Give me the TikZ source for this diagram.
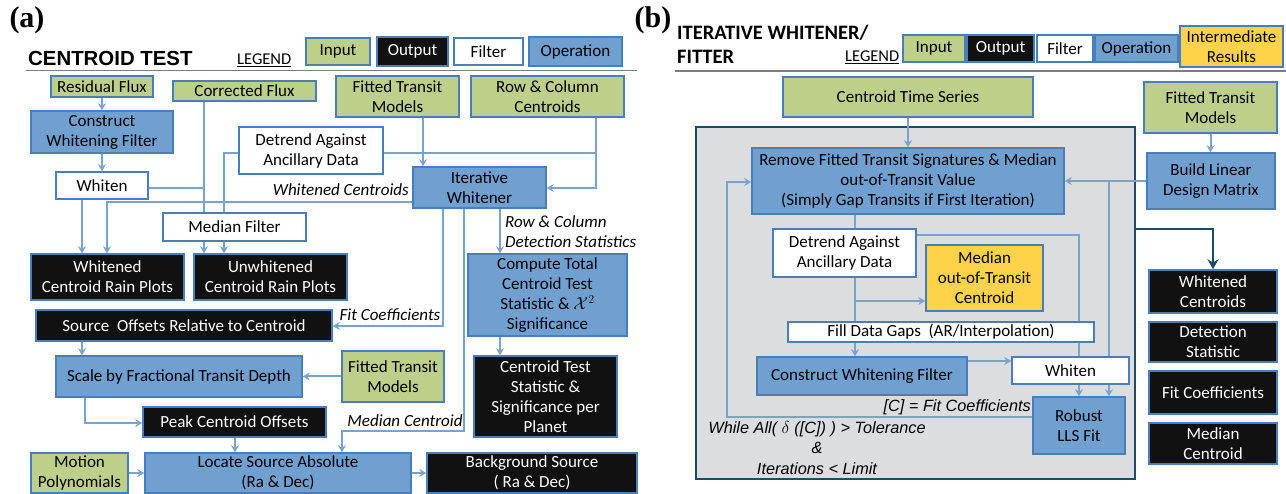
\documentclass[tikz,border=0pt]{standalone}
\usepackage{fontspec}
\setmainfont{Carlito}
\newfontfamily\arialf{Liberation Sans}
\newfontfamily\timesf{Liberation Serif}
\usetikzlibrary{arrows.meta}
\pgfdeclarelayer{back}
\pgfdeclarelayer{conn}
\pgfsetlayers{back,conn,main}
\definecolor{bordc}{RGB}{74,126,187}
\definecolor{opfill}{RGB}{111,160,207}
\definecolor{infill}{RGB}{190,207,140}
\definecolor{outfill}{RGB}{17,17,17}
\definecolor{intfill}{RGB}{255,210,75}
\definecolor{connc}{RGB}{122,162,202}
\definecolor{grayfill}{RGB}{220,221,223}
\definecolor{navy}{RGB}{30,75,105}
\definecolor{rulec}{RGB}{125,125,125}
\begin{document}
\begin{tikzpicture}[x=1pt,y=-1pt,
  box/.style={draw=bordc, line width=1.5pt, align=center, inner sep=1pt, font=\fontsize{17}{20}\selectfont},
  wh/.style 2 args={minimum width=#1, minimum height=#2},
  inbox/.style={box, fill=infill},
  outbox/.style={box, fill=outfill, text=white},
  filbox/.style={box, fill=white},
  opbox/.style={box, fill=opfill},
  intbox/.style={box, fill=intfill},
  conn/.style={draw=connc, line width=2pt},
  arr/.style={conn, -{Stealth[length=7pt,width=8pt]}},
  thickarr/.style={draw=navy, line width=2.8pt, -{Stealth[length=10pt,width=11pt]}},
  ilab/.style={inner sep=0pt, font=\fontsize{17}{20}\selectfont\itshape},
  alab/.style={inner sep=0pt, align=center, font=\arialf\itshape\fontsize{16.3}{20.5}\selectfont},
  ttl/.style={inner sep=0pt, font=\timesf\bfseries\fontsize{30}{30}\selectfont},
  leg/.style={inner sep=0pt, anchor=base west, font=\fontsize{16.5}{20}\selectfont}
]
\useasboundingbox (0,0) rectangle (1286,494);

% ================= Panel (a) =================
\node[ttl] (ta) at (27,20) {(a)};
\node[inner sep=0pt, anchor=base west, font=\arialf\bfseries\fontsize{20.4}{24}\selectfont] (tct) at (28,66) {CENTROID TEST};
\node[leg] (lga) at (237,65) {\underline{LEGEND}};
\coordinate (ra1) at (26,70.5);
\coordinate (ra2) at (637,70.5);
\draw[rulec, line width=1.5pt] (ra1) -- (ra2);

\node[inbox, wh={64}{27}] (liA) at (338,51.5) {Input};
\node[outbox, wh={71}{29}] (loA) at (412.5,51.5) {Output};
\node[filbox, wh={69}{27}] (lfA) at (488.5,51.5) {Filter};
\node[opbox, wh={93}{29}] (lpA) at (575.5,51.5) {Operation};

\node[inbox, wh={102}{21}] (resid) at (102,86.5) {Residual Flux};
\node[inbox, wh={143}{20}] (corr) at (244.5,91) {Corrected Flux};
\node[opbox, wh={142}{42}] (cwf) at (102,132) {Construct\\Whitening Filter};
\node[filbox, wh={92}{27}] (whA) at (102,185.5) {Whiten};
\node[filbox, wh={144}{47}] (detA) at (311,150.5) {Detrend Against\\Ancillary Data};
\node[inbox, wh={123}{41}] (ftmA) at (397.5,96.5) {Fitted Transit\\Models};
\node[inbox, wh={153}{41}] (rcc) at (547.5,96.5) {Row \& Column\\Centroids};
\node[opbox, wh={133}{41}] (itw) at (479.5,187.5) {Iterative\\Whitener};
\node[filbox, wh={143}{28}] (medf) at (234.5,227) {Median Filter};
\node[outbox, wh={153}{46}] (wrp) at (107.5,277) {Whitened\\Centroid Rain Plots};
\node[outbox, wh={153}{46}] (uwrp) at (270.5,277) {Unwhitened\\Centroid Rain Plots};
\node[opbox, wh={159}{82}] (ctot) at (547.5,295) {Compute Total\\Centroid Test\\Statistic \& $\mathcal{X}^{2}$\\Significance};
\node[outbox, wh={296}{31}] (src) at (184,325.5) {Source~ Offsets Relative to Centroid};
\node[outbox, wh={143}{81}] (ctsig) at (545.5,396.5) {Centroid Test\\Statistic \&\\Significance per\\Planet};
\node[opbox, wh={246}{41}] (scale) at (179,376.5) {Scale by Fractional Transit Depth};
\node[inbox, wh={102}{51}] (ftm2) at (393,376.5) {Fitted Transit\\Models};
\node[outbox, wh={183}{30}] (peak) at (234.5,422) {Peak Centroid Offsets};
\node[inbox, wh={97}{40}] (motion) at (79.5,473) {Motion\\Polynomials};
\node[opbox, wh={266}{40}] (locate) at (278,473) {Locate Source Absolute\\(Ra \& Dec)};
\node[outbox, wh={210}{40}] (bg) at (532,473) {Background Source\\( Ra \& Dec)};

\node[ilab, anchor=east] (lwc) at (409,190) {Whitened Centroids};
\node[ilab, anchor=west, align=left] (lrc) at (505,232) {Row \& Column\\Detection Statistics};
\node[ilab] (lfc) at (390,315) {Fit Coefficients};
\node[ilab] (lmc) at (405,421) {Median Centroid};

% connector coordinates (a)
\coordinate (xa1) at (204,188);
\coordinate (xa2) at (82,0);
\coordinate (wc) at (107,202);
\coordinate (dt) at (224,153);
\coordinate (rc) at (596,153);
\coordinate (rc2) at (596,188);
\coordinate (f1) at (423,0);
\coordinate (fc) at (443,326);
\coordinate (mc1) at (464,431);
\coordinate (mc2) at (342,431);
\coordinate (rd) at (500,0);
\coordinate (sp) at (85,423);
\coordinate (pk) at (235,0);

\begin{pgfonlayer}{conn}
\draw[arr] (resid.south) -- (cwf.north);
\draw[arr] (cwf.south) -- (whA.north);
\draw[arr] (corr.south -| xa1) -- (uwrp.north -| xa1);
\draw[conn] (whA.east |- xa1) -- (xa1);
\draw[arr] (whA.south -| xa2) -- (wrp.north -| xa2);
\draw[arr] (itw.west |- wc) -- (wc) -- (wrp.north -| wc);
\draw[arr] (detA.west |- dt) -- (dt) -- (uwrp.north -| dt);
\draw[conn] (detA.east |- rc) -- (rc);
\draw[arr] (rcc.south -| rc2) -- (rc2) -- (itw.east |- rc2);
\draw[arr] (ftmA.south -| f1) -- (itw.north -| f1);
\draw[arr] (itw.south -| fc) -- (fc) -- (src.east |- fc);
\draw[arr] (itw.south -| mc1) -- (mc1) -- (mc2) -- (locate.north -| mc2);
\draw[arr] (itw.south -| rd) -- (ctot.north -| rd);
\draw[arr] (ctot.south -| rd) -- (ctsig.north -| rd);
\draw[arr] (src.south -| xa2) -- (scale.north -| xa2);
\draw[arr] (ftm2.west) -- (scale.east |- ftm2.west);
\draw[arr] (scale.south -| sp) -- (sp) -- (peak.west |- sp);
\draw[arr] (peak.south -| pk) -- (locate.north -| pk);
\draw[arr] (motion.east) -- (locate.west |- motion.east);
\draw[arr] (locate.east) -- (bg.west |- locate.east);
\end{pgfonlayer}

% ================= Panel (b) =================
\node[ttl] (tb) at (653,20) {(b)};
\node[inner sep=0pt, anchor=base west, font=\bfseries\fontsize{20.5}{24}\selectfont] (tiw1) at (677,40) {ITERATIVE WHITENER/};
\node[inner sep=0pt, anchor=base west, font=\bfseries\fontsize{20.5}{24}\selectfont] (tiw2) at (677,64) {FITTER};
\node[leg] (lgb) at (845,62) {\underline{LEGEND}};
\coordinate (rb1) at (675,71);
\coordinate (rb2) at (1286,71);
\draw[rulec, line width=1.5pt] (rb1) -- (rb2);

\node[inbox, wh={62}{27}] (liB) at (934,48.5) {Input};
\node[outbox, wh={67}{27}] (loB) at (1000.5,48.5) {Output};
\node[filbox, wh={56}{27}] (lfB) at (1065,48.5) {Filter};
\node[opbox, wh={83}{27}] (lpB) at (1136.5,48.5) {Operation};
\node[intbox, wh={103}{41}] (lnB) at (1231.5,46.5) {Intermediate\\Results};

\begin{pgfonlayer}{back}
\node[draw=navy, fill=grayfill, line width=2.5pt, wh={439}{352}] (loop) at (915.5,303) {};
\end{pgfonlayer}

\node[inbox, wh={250}{40}] (cts) at (908,97) {Centroid Time Series};
\node[opbox, wh={312}{66}] (remove) at (908,181) {Remove Fitted Transit Signatures \& Median\\out-of-Transit Value\\(Simply Gap Transits if First Iteration)};
\node[inbox, wh={133}{51}] (ftmB) at (1210.5,107.5) {Fitted Transit\\Models};
\node[opbox, wh={128}{56}] (build) at (1211,181) {Build Linear\\Design Matrix};
\node[outbox, wh={128}{43}] (wcB) at (1213,291.5) {Whitened\\Centroids};
\node[outbox, wh={128}{40}] (dsB) at (1213,342) {Detection\\Statistic};
\node[outbox, wh={128}{43}] (fcB) at (1213,392.5) {Fit Coefficients};
\node[outbox, wh={128}{41}] (mcB) at (1213,443.5) {Median\\Centroid};
\node[filbox, wh={143}{48}] (detB) at (844.5,253) {Detrend Against\\Ancillary Data};
\node[intbox, wh={117}{66}] (medB) at (984.5,278) {Median\\out-of-Transit\\Centroid};
\node[filbox, wh={306}{20}] (fill) at (941,332) {Fill Data Gaps~ (AR/Interpolation)};
\node[opbox, wh={210}{38}] (cwfB) at (862,376) {Construct Whitening Filter};
\node[filbox, wh={117}{27}] (whB) at (1070.5,370.5) {Whiten};
\node[opbox, wh={92}{57}] (robust) at (1079,425.5) {Robust\\LLS Fit};

\node[alab, anchor=east] (lcc) at (1031,407) {[C] = Fit Coefficients};
\node[alab] (lwh) at (817,448) {While All( $\delta$ ([C]) ) > Tolerance\\\&\\Iterations < Limit};

% connector coordinates (b)
\coordinate (bj) at (1109,182);
\coordinate (l1) at (727,417);
\coordinate (l2) at (727,182);
\coordinate (xr) at (855,0);
\coordinate (br) at (855,301);
\coordinate (d1) at (1079,235);
\coordinate (cw) at (0,361);
\coordinate (t1) at (1213,229);

\begin{pgfonlayer}{conn}
\draw[arr] (cts.south) -- (remove.north);
\draw[arr] (ftmB.south) -- (build.north -| ftmB.south);
\draw[arr] (build.west) -- (remove.east |- build.west);
\draw[arr] (bj) -- (robust.north -| bj);
\draw[arr] (robust.west |- l1) -- (l1) -- (l2) -- (remove.west |- l2);
\draw[conn] (remove.south -| xr) -- (detB.north -| xr);
\draw[conn] (detB.south -| xr) -- (fill.north -| xr);
\draw[arr] (br) -- (medB.west |- br);
\draw[arr] (fill.south -| xr) -- (cwfB.north -| xr);
\draw[arr] (detB.east |- d1) -- (d1) -- (robust.north -| d1);
\draw[arr] (cwfB.east |- cw) -- (whB.west |- cw);
\draw[thickarr] (loop.east |- t1) -- (t1) -- (wcB.north);
\end{pgfonlayer}
\end{tikzpicture}
\end{document}
